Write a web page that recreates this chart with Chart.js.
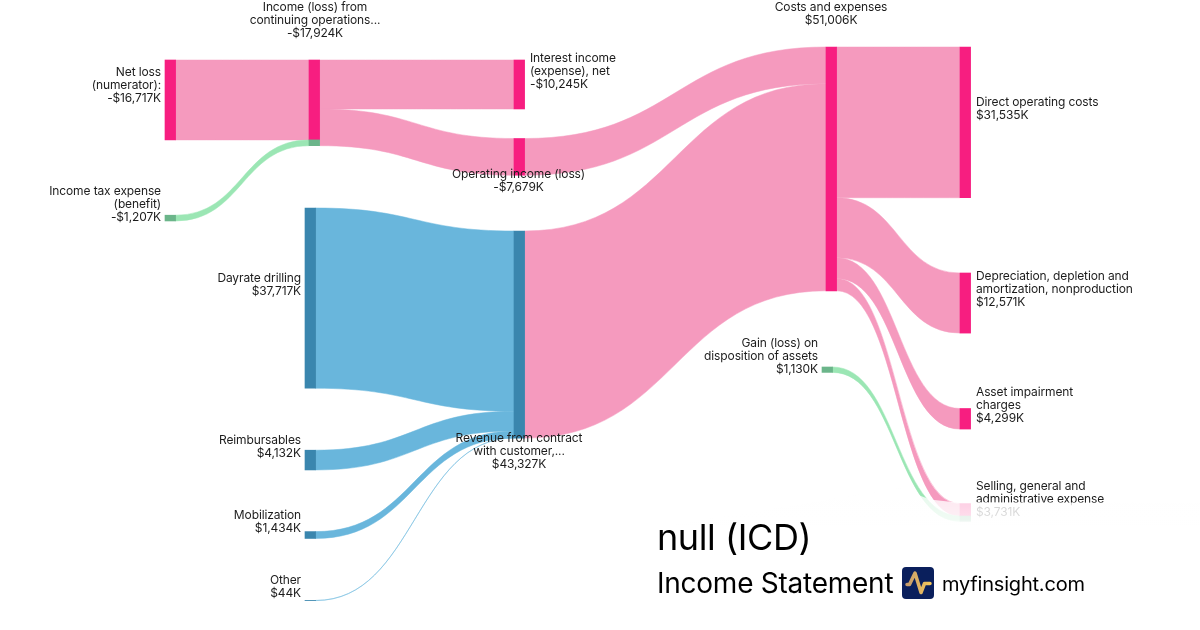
<!DOCTYPE html>
<html><head><meta charset="utf-8">
<style>html,body{margin:0;padding:0;background:#fff}#w{position:relative;width:1200px;height:630px}</style>
<script src="https://cdn.jsdelivr.net/npm/chart.js@4"></script>
</head><body><div id="w"><canvas id="c" width="1200" height="630"></canvas></div>
<script>
// ---- data ($K) ----
const nodeNames = [
  ["Net loss","(numerator):"],
  ["Income (loss) from","continuing operations..."],
  ["Income tax expense","(benefit)"],
  ["Interest income","(expense), net"],
  ["Operating income (loss)"],
  ["Dayrate drilling"],
  ["Reimbursables"],
  ["Mobilization"],
  ["Other"],
  ["Revenue from contract","with customer,..."],
  ["Costs and expenses"],
  ["Gain (loss) on","disposition of assets"],
  ["Direct operating costs"],
  ["Depreciation, depletion and","amortization, nonproduction"],
  ["Asset impairment","charges"],
  ["Selling, general and","administrative expense"]
];
const nodeValues = [-16717,-17924,-1207,-10245,-7679,37717,4132,1434,44,43327,51006,1130,31535,12571,4299,3731];
const nodeKinds  = ["loss","loss","gain","loss","loss","rev","rev","rev","rev","rev","loss","gain","loss","loss","loss","loss"];
const linkSources = [0,2,1,1,5,6,7,8,4,9,10,10,10,10,11];
const linkTargets = [1,1,3,4,9,9,9,9,10,10,12,13,14,15,15];
const linkValues  = [16717,1207,10245,7679,37717,4132,1434,44,7679,43327,31535,12571,4299,2601,1130];
const linkKinds   = ["loss","gain","loss","loss","rev","rev","rev","rev","loss","loss","loss","loss","loss","loss","gain"];
const titleText = "null (ICD)";
const subtitleText = "Income Statement";
const brandText = "myfinsight.com";

// ---- layout and styles ----
const PX_PER_K = 0.00478;
const nodeLeft = [165,309,165,514,514,305,305,305,305,514,826,822,960,960,960,960];
const nodeTop  = [60,60,215.2,60,138.5,208,450.2,531.6,600.4,231,47,367,47,273,408.5,503.6];
const nodeW = 10.6;
const labelPos = [
  ["r",161,72],["c",315,7.6],["r",161,191],["l",530,58],["c",518.5,174],["r",301,278],["r",301,440],["r",301,515],
  ["r",301,580.5],["c",519,438],["c",831,7.6],["r",818,343],["l",976,102],["l",976,276],["l",976,392],["l",976,486]
];
const linkColor = {loss:"#F59ABE",rev:"#69B6DC",gain:"#9BE6B4"};
const nodeColor = {loss:"#F71E80",rev:"#3A86AE",gain:"#6BB58A"};
const FONT = "Inter, 'Noto Sans', sans-serif";
const toY = px => px / PX_PER_K;

// stacked offsets of each link at its two ends, in $K on the y scale
const outAt = nodeTop.map(toY), inAt = nodeTop.map(toY);
const ribbons = linkValues.map((v,i)=>{
  const s=linkSources[i], t=linkTargets[i];
  const r={s,t,v,kind:linkKinds[i],y0:outAt[s],y1:inAt[t]};
  outAt[s]+=v; inAt[t]+=v; return r;
});
// node bars: one segment per incoming link where it changes colour, otherwise the whole node
const barData=[], barColors=[];
nodeValues.forEach((v,n)=>{
  const inc=ribbons.filter(r=>r.t===n);
  const kinds=new Set(inc.map(r=>r.kind));
  if(kinds.size>1){
    inc.forEach(r=>{barData.push({x:nodeLeft[n]+nodeW/2,y:[r.y1,r.y1+r.v]});barColors.push(nodeColor[r.kind]);});
  } else {
    const top=toY(nodeTop[n]);
    barData.push({x:nodeLeft[n]+nodeW/2,y:[top,top+Math.abs(v)]});barColors.push(nodeColor[nodeKinds[n]]);
  }
});
const fmt=v=>(v<0?"-":"")+"$"+Math.abs(v).toLocaleString("en-US")+"K";

const sankey={
  id:"sankey",
  beforeDatasetsDraw(ch){
    const {ctx,scales:{x,y}}=ch;
    ctx.save();
    ribbons.forEach(r=>{
      const x0=x.getPixelForValue(nodeLeft[r.s]+nodeW), x1=x.getPixelForValue(nodeLeft[r.t]), m=(x0+x1)/2;
      const a0=y.getPixelForValue(r.y0), b0=y.getPixelForValue(r.y0+r.v);
      const a1=y.getPixelForValue(r.y1), b1=y.getPixelForValue(r.y1+r.v);
      ctx.beginPath();
      ctx.moveTo(x0,a0);
      ctx.bezierCurveTo(m,a0,m,a1,x1,a1);
      ctx.lineTo(x1,b1);
      ctx.bezierCurveTo(m,b1,m,b0,x0,b0);
      ctx.closePath();
      ctx.fillStyle=linkColor[r.kind];
      ctx.strokeStyle=linkColor[r.kind];
      ctx.lineWidth=0.5;
      ctx.fill();ctx.stroke();
    });
    ctx.restore();
  },
  afterDatasetsDraw(ch){
    const {ctx}=ch;
    ctx.save();
    ctx.font="12px "+FONT;
    ctx.letterSpacing="-0.12px";
    ctx.fillStyle="#1c1c1c";
    ctx.textBaseline="middle";
    const LH=13;
    nodeNames.forEach((lines,n)=>{
      const [al,px,py]=labelPos[n];
      ctx.textAlign=al==="r"?"right":al==="c"?"center":"left";
      [...lines,fmt(nodeValues[n])].forEach((t,i)=>ctx.fillText(t,px,py+i*LH));
    });
    // white fade panel behind the title block
    const g=ctx.createLinearGradient(0,500,0,526);
    g.addColorStop(0,"rgba(255,255,255,0.78)");
    g.addColorStop(0.75,"rgba(255,255,255,0.86)");
    g.addColorStop(1,"rgba(255,255,255,1)");
    ctx.fillStyle=g;
    ctx.beginPath();
    ctx.moveTo(900,488);ctx.lineTo(930,499.5);ctx.lineTo(952,502);ctx.lineTo(1200,503);ctx.lineTo(1200,630);ctx.lineTo(640,630);ctx.lineTo(640,530);ctx.closePath();
    ctx.fill();
    // title block
    ctx.fillStyle="#000";
    ctx.textAlign="left";ctx.textBaseline="alphabetic";
    ctx.letterSpacing="-0.4px";
    ctx.font="36px "+FONT;ctx.fillText(titleText,657,550);
    ctx.letterSpacing="-0.25px";
    ctx.font="28px "+FONT;ctx.fillText(subtitleText,657,593);
    ctx.fillStyle="#0A1F5C";
    ctx.beginPath();ctx.roundRect(902,567,32,32,4);ctx.fill();
    const lg=ctx.createLinearGradient(906,0,931,0);
    lg.addColorStop(0,"#C49A6C");lg.addColorStop(1,"#F5C75A");
    ctx.lineWidth=3.5;ctx.lineJoin="round";ctx.lineCap="round";
    ctx.strokeStyle=lg;
    ctx.beginPath();ctx.moveTo(907,584.5);ctx.lineTo(909.5,584.5);ctx.lineTo(915,573);ctx.lineTo(921,592.5);ctx.lineTo(924.5,583.5);ctx.lineTo(930,583.5);ctx.stroke();
    ctx.fillStyle="#000";
    ctx.letterSpacing="-0.2px";
    ctx.font="20px "+FONT;ctx.fillText(brandText,942,591);
    ctx.restore();
  }
};

new Chart(document.getElementById("c"),{
  type:"bar",
  data:{datasets:[{label:"Nodes",data:barData,backgroundColor:barColors,borderWidth:0,barThickness:nodeW,grouped:false}]},
  options:{
    responsive:false,animation:false,
    layout:{padding:0},
    plugins:{legend:{display:false},title:{display:false},tooltip:{enabled:false}},
    scales:{
      x:{type:"linear",min:0,max:1200,offset:false,display:false},
      y:{type:"linear",min:0,max:630/PX_PER_K,reverse:true,display:false}
    }
  },
  plugins:[sankey]
});
</script></body></html>
